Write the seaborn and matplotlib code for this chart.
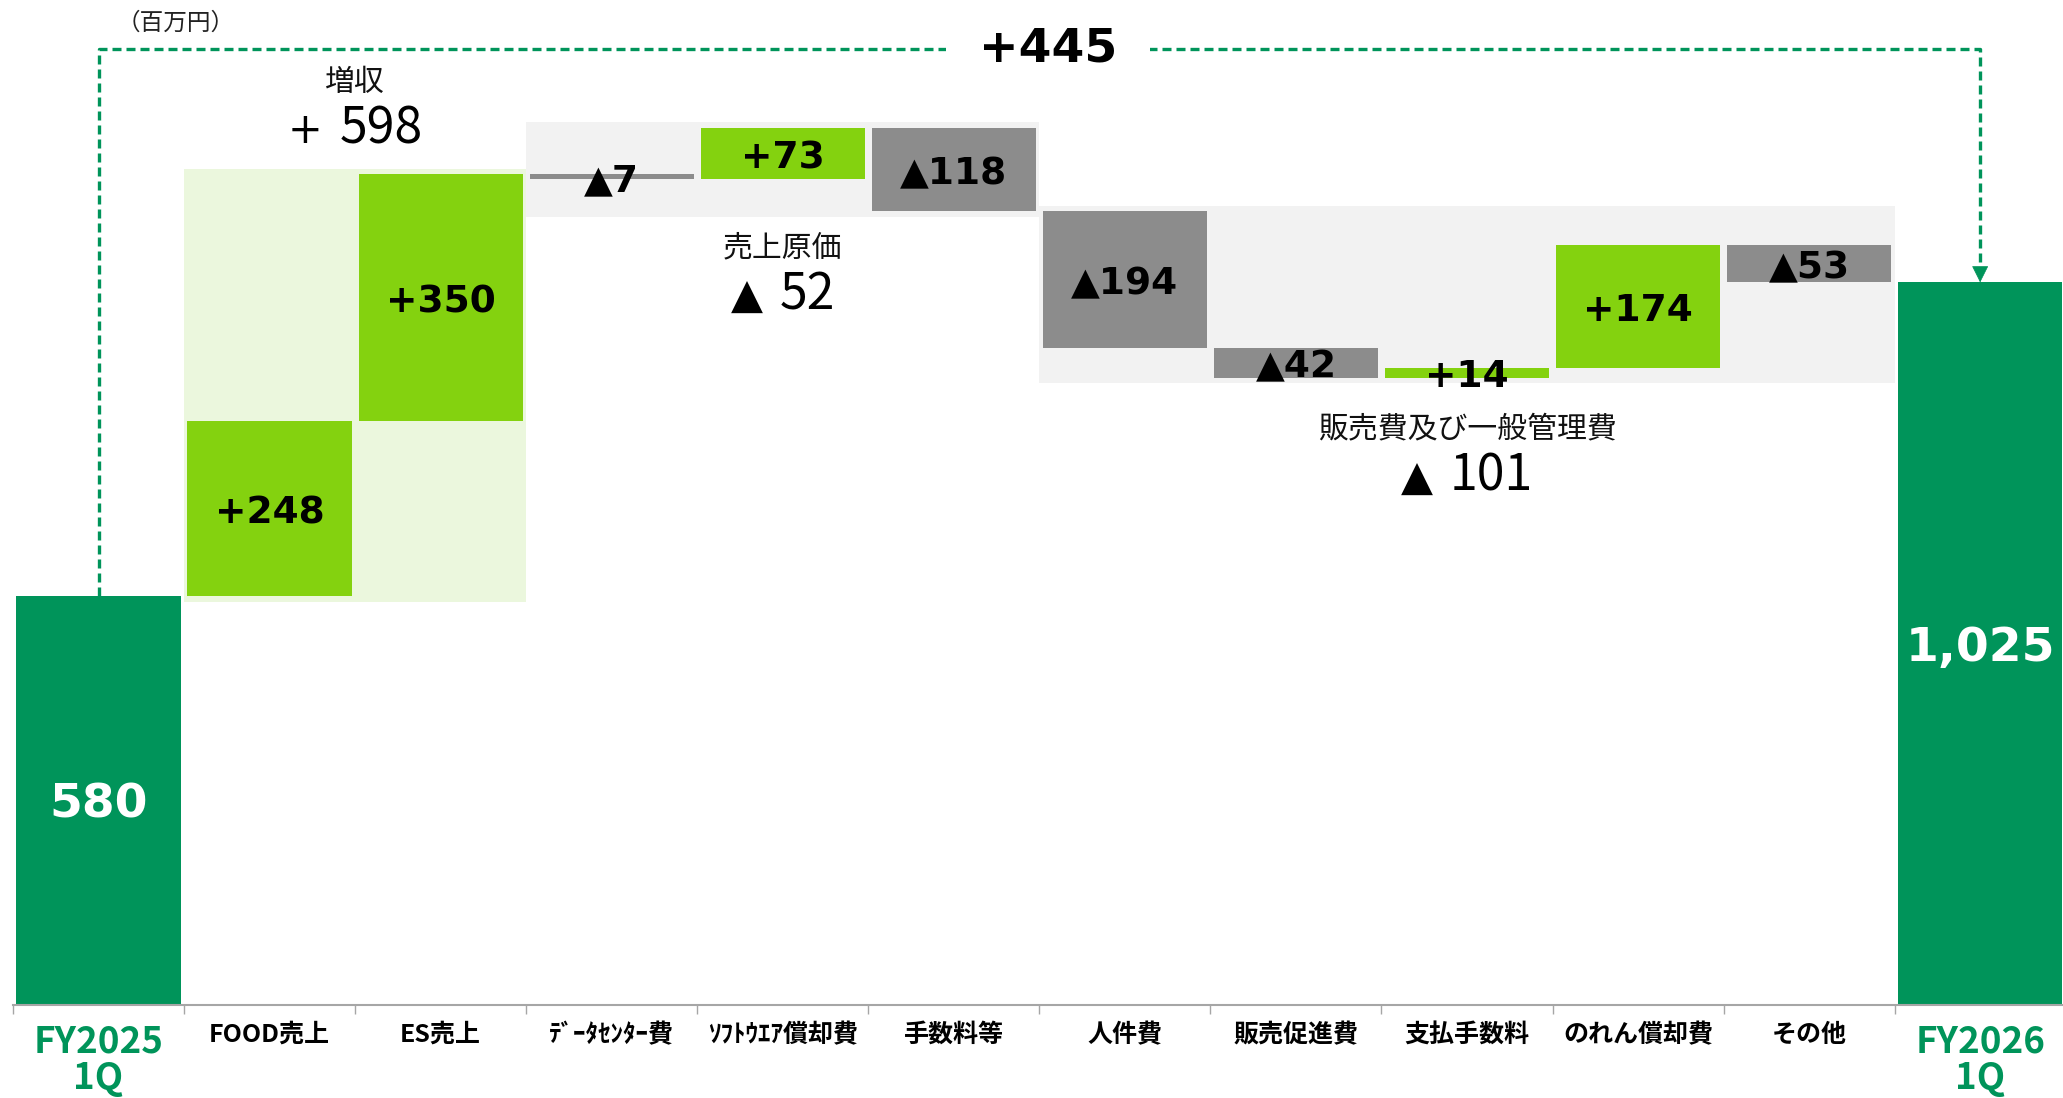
import numpy as np
import pandas as pd
import matplotlib
matplotlib.use("Agg")
import matplotlib.pyplot as plt
from matplotlib.patches import Rectangle
from matplotlib.offsetbox import TextArea, HPacker, AnnotationBbox
import seaborn as sns

# ---- data (百万円) ----
categories = ["FY2025\n1Q", "FOOD売上", "ES売上", "ﾃﾞｰﾀｾﾝﾀｰ費", "ｿﾌﾄｳｴｱ償却費", "手数料等",
              "人件費", "販売促進費", "支払手数料", "のれん償却費", "その他", "FY2026\n1Q"]
start_total = 580
end_total = 1025
changes = [248, 350, -7, 73, -118, -194, -42, 14, 174, -53]
total_change = 445

group_names = ["増収", "売上原価", "販売費及び一般管理費"]
group_first = [1, 3, 6]
group_last = [2, 5, 10]

# ---- colours ----
DARK = "#00945A"
LIME = "#84D20F"
GRAY = "#8C8C8C"
BOX_GREEN = "#EBF7DD"
BOX_GRAY = "#F2F2F2"
AXIS_GRAY = "#A6A6A6"

sns.set_theme(style="white")
plt.rcParams["font.family"] = ["Noto Sans CJK JP", "DejaVu Sans"]

running = start_total + np.cumsum(changes)
heights = [start_total] + changes + [end_total]
bottoms = [0] + [start_total] + [int(v) for v in running[:-1]] + [0]
colors = [DARK] + [LIME if c > 0 else GRAY for c in changes] + [DARK]

df = pd.DataFrame({"cat": categories, "height": heights})

fig = plt.figure(figsize=(20.63, 10.98), dpi=100)
ax = fig.add_axes([0.0063, 0.0847, 0.9950, 0.9153])

sns.barplot(data=df, x="cat", y="height", order=categories, bottom=bottoms,
            color=GRAY, saturation=1, width=0.96, errorbar=None, linewidth=0,
            ax=ax, zorder=2)
for patch, col in zip(ax.patches, colors):
    patch.set_facecolor(col)
    patch.set_edgecolor("none")

# group background boxes
pad = 8
for gi, (a, b) in enumerate(zip(group_first, group_last)):
    lows = [min(bottoms[i], bottoms[i] + heights[i]) for i in range(a, b + 1)]
    highs = [max(bottoms[i], bottoms[i] + heights[i]) for i in range(a, b + 1)]
    lo, hi = min(lows) - pad, max(highs) + pad
    ax.add_patch(Rectangle((a - 0.5, lo), b - a + 1, hi - lo,
                           facecolor=BOX_GREEN if gi == 0 else BOX_GRAY,
                           edgecolor="none", zorder=0))

# bar value labels
for i, (h, b) in enumerate(zip(heights, bottoms)):
    yc = b + h / 2
    if i == 0 or i == len(heights) - 1:
        txt, col, fs = f"{h:,}", "white", 34
    else:
        txt = f"+{h}" if h > 0 else f"▲{-h}"
        col, fs = "black", 27
    ax.annotate(txt, (i, yc), xytext=(0, -3.5), textcoords="offset points",
                ha="center", va="center", color=col, fontsize=fs,
                fontweight="bold", family="DejaVu Sans", zorder=3)

# group annotations
title_y = [1309, 1074, 817]
total_y = [1242, 1007, 749]
for gi, (a, b) in enumerate(zip(group_first, group_last)):
    s = int(sum(changes[a - 1:b]))
    sign = "+" if s > 0 else "▲"
    xc = (a + b) / 2
    ax.text(xc, title_y[gi], group_names[gi], ha="center", va="center",
            fontsize=21.5, color="#111111", zorder=3)
    sign_area = TextArea(sign, textprops=dict(fontsize=30, family="DejaVu Sans",
                                              color="black"))
    num_area = TextArea(str(abs(s)), textprops=dict(fontsize=36, color="black"))
    pack = HPacker(children=[sign_area, num_area], align="baseline", pad=0, sep=12)
    ax.add_artist(AnnotationBbox(pack, (xc, total_y[gi]), frameon=False,
                                 box_alignment=(0.5, 0.5), pad=0, zorder=3))

# overall change bracket
n = len(categories)
top_y = 1356
head = 21
ax.plot([0, 0, n - 1, n - 1], [start_total, top_y, top_y, end_total + head],
        color=DARK, lw=2.4, linestyle=(0, (2.7, 1.5)), zorder=3,
        solid_capstyle="butt", dash_capstyle="butt")
ax.annotate("", xy=(n - 1, end_total), xytext=(n - 1, end_total + head),
            arrowprops=dict(arrowstyle="-|>", color=DARK, lw=0.5,
                            mutation_scale=27, shrinkA=0, shrinkB=0), zorder=3)
ax.text(5.55, top_y, f"+{total_change}", ha="center", va="center",
        fontsize=34, fontweight="bold", family="DejaVu Sans", color="black",
        bbox=dict(boxstyle="square,pad=0.7", facecolor="white", edgecolor="none"),
        zorder=4)

ax.text(0.45, 1392, "（百万円）", ha="center", va="center", fontsize=17,
        color="#222222", zorder=3)

# axes styling
ax.set_xlim(-0.5, n - 0.5)
ax.set_ylim(0, 1425.5)
ax.set_xlabel("")
ax.set_ylabel("")
ax.set_yticks([])
for side in ["top", "left", "right"]:
    ax.spines[side].set_visible(False)
ax.spines["bottom"].set_color(AXIS_GRAY)
ax.spines["bottom"].set_linewidth(1.5)

ax.set_xticks(range(n))
ax.set_xticklabels(categories)
ax.set_xticks(np.arange(-0.5, n, 1.0), minor=True)
ax.tick_params(axis="x", which="major", length=0, pad=13)
ax.tick_params(axis="x", which="minor", length=6.5, width=1, color=AXIS_GRAY,
               direction="out", bottom=True)
for i, lab in enumerate(ax.get_xticklabels()):
    if i == 0 or i == n - 1:
        lab.set_color(DARK)
        lab.set_fontsize(26.5)
        lab.set_linespacing(1.0)
    else:
        lab.set_color("black")
        lab.set_fontsize(18)
    lab.set_fontweight("bold")

fig.savefig("out.png", dpi=100)
